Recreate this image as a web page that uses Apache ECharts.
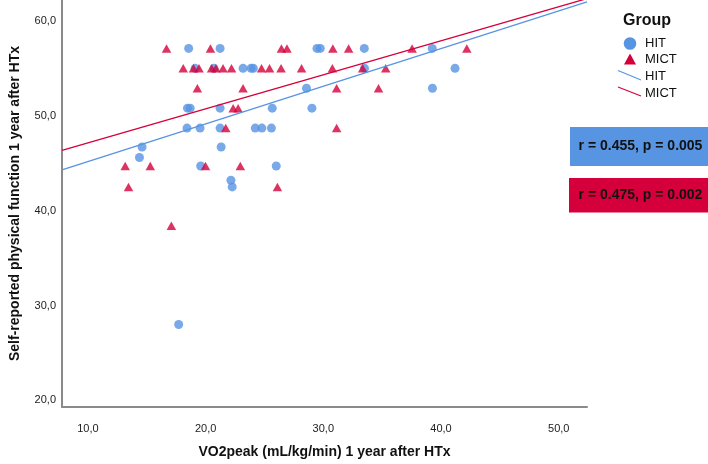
<!DOCTYPE html>
<html>
<head>
<meta charset="utf-8">
<script src="https://cdn.jsdelivr.net/npm/echarts@6/dist/echarts.min.js"></script>
<style>html,body{margin:0;padding:0;background:#fff}#c{width:708px;height:464px}</style>
</head>
<body>
<div id="c"></div>
<script>
// ---- data ----
const hitPoints = [
  [18.56,57.1],[21.23,57.1],[29.46,57.1],[29.74,57.1],[33.48,57.1],[39.25,57.1],
  [19.11,55.0],[20.71,55.0],[23.18,55.0],[23.86,55.0],[24.06,55.0],[33.50,55.0],[41.19,55.0],
  [28.57,52.9],[39.27,52.9],
  [18.46,50.8],[18.69,50.8],[21.23,50.8],[25.66,50.8],[29.03,50.8],
  [18.42,48.7],[19.53,48.7],[21.23,48.7],[24.22,48.7],[24.78,48.7],[25.59,48.7],
  [14.60,46.7],[21.32,46.7],
  [14.38,45.6],
  [19.58,44.7],[26.00,44.7],
  [22.15,43.2],[22.26,42.5],
  [17.71,28.0]
];
const mictPoints = [
  [16.68,57.1],[20.41,57.1],[26.44,57.1],[26.91,57.1],[30.81,57.1],[32.15,57.1],[37.54,57.1],[42.19,57.1],
  [18.10,55.0],[18.97,55.0],[19.44,55.0],[20.51,55.0],[20.88,55.0],[21.48,55.0],[22.20,55.0],[24.75,55.0],
  [25.43,55.0],[26.41,55.0],[28.15,55.0],[30.77,55.0],[33.34,55.0],[35.30,55.0],
  [19.30,52.9],[23.18,52.9],[31.13,52.9],[34.69,52.9],
  [22.34,50.8],[22.76,50.8],
  [21.71,48.7],[31.13,48.7],
  [13.17,44.7],[15.30,44.7],[19.99,44.7],[22.95,44.7],
  [13.45,42.5],[26.10,42.5],
  [17.09,38.4]
];
const hitFit = [[7.8,44.3],[52.4,62.0]];
const mictFit = [[7.8,46.35],[52.4,62.35]];
const xTicks = [10,20,30,40,50];
const yTicks = [20,30,40,50,60];
const groups = ['HIT','MICT'];
const stats = ['r = 0.455, p = 0.005','r = 0.475, p = 0.002'];

const BLUE = '#5794e2', RED = '#d5003b';
const FONT = '"Liberation Sans", Arial, Helvetica, sans-serif';
const fmt = v => Number(v).toFixed(1).replace('.', ',');

const chart = echarts.init(document.getElementById('c'), null, {renderer:'canvas'});
chart.setOption({
  animation: false,
  backgroundColor: '#fff',
  grid: {left: 51, right: 121, top: 0, bottom: 57, containLabel: false},
  xAxis: {
    type: 'value', min: 7.8, max: 52.4,
    name: 'VO2peak (mL/kg/min) 1 year after HTx', nameLocation: 'middle', nameGap: 38,
    nameTextStyle: {fontFamily: FONT, fontWeight: 'bold', fontSize: 14, color: '#111'},
    axisLine: {show: true, lineStyle: {color: '#8a8a8a', width: 2}},
    axisTick: {show: false},
    splitLine: {show: false},
    axisLabel: {customValues: xTicks, formatter: fmt, fontFamily: FONT, fontSize: 11, color: '#222', margin: 16}
  },
  yAxis: {
    type: 'value', min: 19.3, max: 62.2,
    name: 'Self-reported physical function 1 year after HTx', nameLocation: 'middle', nameGap: 40,
    nameTextStyle: {fontFamily: FONT, fontWeight: 'bold', fontSize: 14, color: '#111'},
    axisLine: {show: true, lineStyle: {color: '#8a8a8a', width: 2}},
    axisTick: {show: false},
    splitLine: {show: false},
    axisLabel: {customValues: yTicks, formatter: fmt, fontFamily: FONT, fontSize: 11, color: '#222', margin: 6}
  },
  series: [
    {name: groups[0], type: 'scatter', data: hitPoints, symbol: 'circle', symbolSize: 9,
     itemStyle: {color: BLUE}, z: 2},
    {name: groups[1], type: 'scatter', data: mictPoints, symbol: 'triangle', symbolSize: [9.5, 8.5],
     itemStyle: {color: RED}, z: 3},
    {name: groups[0] + ' fit', type: 'line', data: hitFit, showSymbol: false, symbol: 'none', clip: true,
     lineStyle: {color: BLUE, width: 1.3}, z: 4},
    {name: groups[1] + ' fit', type: 'line', data: mictFit, showSymbol: false, symbol: 'none', clip: true,
     lineStyle: {color: RED, width: 1.3}, z: 4}
  ],
  graphic: [
    {type: 'text', left: 623, top: 13, style: {text: 'Group', font: 'bold 16px ' + FONT, fill: '#111'}},
    {type: 'circle', shape: {cx: 630, cy: 43.5, r: 6.3}, style: {fill: BLUE}},
    {type: 'text', x: 645, y: 43.5, style: {text: groups[0], font: '13px ' + FONT, fill: '#111', verticalAlign: 'middle'}},
    {type: 'polygon', shape: {points: [[630, 53.5], [624, 64.5], [636, 64.5]]}, style: {fill: RED}},
    {type: 'text', x: 645, y: 59.5, style: {text: groups[1], font: '13px ' + FONT, fill: '#111', verticalAlign: 'middle'}},
    {type: 'line', shape: {x1: 618, y1: 70.5, x2: 641, y2: 80}, style: {stroke: BLUE, lineWidth: 1.2}},
    {type: 'text', x: 645, y: 76.5, style: {text: groups[0], font: '13px ' + FONT, fill: '#111', verticalAlign: 'middle'}},
    {type: 'line', shape: {x1: 618, y1: 87, x2: 641, y2: 96}, style: {stroke: RED, lineWidth: 1.2}},
    {type: 'text', x: 645, y: 93, style: {text: groups[1], font: '13px ' + FONT, fill: '#111', verticalAlign: 'middle'}},
    {type: 'rect', shape: {x: 570, y: 127, width: 140, height: 39}, style: {fill: BLUE}},
    {type: 'text', x: 640.5, y: 146.5, style: {text: stats[0], font: 'bold 14px ' + FONT, fill: '#111', align: 'center', verticalAlign: 'middle'}},
    {type: 'rect', shape: {x: 569, y: 178, width: 141, height: 34.5}, style: {fill: RED}},
    {type: 'text', x: 640.5, y: 195.5, style: {text: stats[1], font: 'bold 14px ' + FONT, fill: '#111', align: 'center', verticalAlign: 'middle'}}
  ]
});
</script>
</body>
</html>
